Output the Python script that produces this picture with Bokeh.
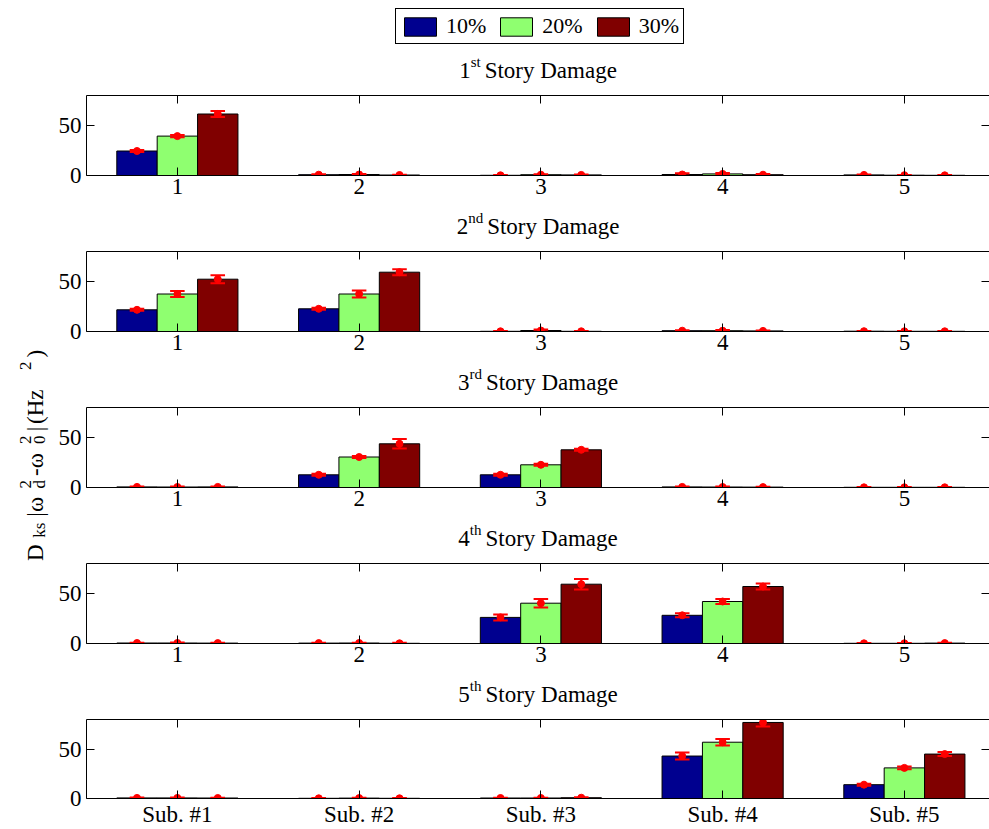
import numpy as np
from bokeh.plotting import figure
from bokeh.models import (FixedTicker, LinearAxis, Range1d, Legend, LegendItem)
from bokeh.core.properties import value
from bokeh.layouts import row, column
from bokeh.embed import file_html
from bokeh.resources import INLINE

# ---------------- data ----------------
subs = [1, 2, 3, 4, 5]
sub_labels = ["Sub. #1", "Sub. #2", "Sub. #3", "Sub. #4", "Sub. #5"]
levels = ["10%", "20%", "30%"]
story_nums = ["1", "2", "3", "4", "5"]
story_suffix = ["st", "nd", "rd", "th", "th"]

# means [level][substructure] and error half-widths
story1_mean = [[24.5, 0.8, 0.2, 1.0, 0.6],
               [39.4, 1.0, 0.8, 1.6, 0.3],
               [61.5, 0.5, 0.6, 0.8, 0.2]]
story1_err = [[1.0, 0.4, 0.3, 1.2, 0.3],
              [1.2, 0.4, 0.4, 0.8, 0.3],
              [3.0, 0.3, 0.3, 0.6, 0.3]]
story2_mean = [[21.7, 22.7, 0.2, 0.8, 0.3],
               [37.5, 37.5, 1.0, 0.8, 0.2],
               [52.3, 59.3, 0.2, 0.6, 0.2]]
story2_err = [[1.0, 1.0, 0.3, 0.5, 0.3],
              [3.0, 3.5, 1.0, 0.8, 0.3],
              [4.0, 3.0, 0.3, 0.5, 0.3]]
story3_mean = [[0.6, 12.7, 12.7, 0.6, 0.2],
               [0.5, 30.5, 22.7, 0.5, 0.2],
               [0.6, 43.7, 37.7, 0.4, 0.2]]
story3_err = [[0.4, 1.0, 1.0, 0.5, 0.3],
              [0.4, 1.0, 1.0, 0.4, 0.3],
              [0.4, 4.7, 1.0, 0.3, 0.3]]
story4_mean = [[0.5, 0.4, 26.1, 28.2, 0.2],
               [0.5, 0.5, 40.3, 42.0, 0.2],
               [0.4, 0.2, 59.3, 57.0, 0.4]]
story4_err = [[0.3, 0.3, 3.0, 2.0, 0.3],
              [0.5, 0.3, 4.3, 2.5, 0.3],
              [0.3, 0.6, 5.3, 3.0, 0.3]]
story5_mean = [[0.6, 0.2, 0.5, 43.0, 14.0],
               [0.6, 0.4, 0.5, 57.0, 31.0],
               [0.5, 0.2, 0.8, 77.0, 45.0]]
story5_err = [[0.3, 0.3, 0.3, 3.5, 1.0],
              [0.3, 0.3, 0.3, 3.3, 1.5],
              [0.3, 0.3, 0.5, 4.0, 2.0]]

y_ticks = [0, 50]

story_means = [story1_mean, story2_mean, story3_mean, story4_mean, story5_mean]
story_errs = [story1_err, story2_err, story3_err, story4_err, story5_err]

# ---------------- styling ----------------
FONT = "Liberation Serif"
colors = ["#00008F", "#8FFF70", "#800000"]
ERR = "#FF0000"
BAR_W = 0.2222
MAIN = 23
SMALL = 15

# Times-like advance widths (em) for composing super/subscripts
W = {'0': .5, '1': .5, '2': .5, '3': .5, '4': .5, '5': .5, 's': .389, 't': .278,
     'n': .5, 'd': .5, 'r': .333, 'h': .5, ' ': .25, 'S': .556, 'o': .5, 'y': .5,
     'D': .722, 'a': .444, 'm': .778, 'g': .5, 'e': .444, 'k': .5, '|': .2,
     'ω': .69, '-': .333, '(': .333, ')': .333, 'H': .722, 'z': .444}


def tw(s, size):
    return sum(W.get(c, .5) for c in s) * size


def put_text(f, xs, ys, texts, size, angle=0.0):
    f.text(x=list(xs), y=list(ys), text=list(texts), angle=angle,
           text_font=value(FONT), text_font_size=value(f"{size}px"),
           text_color="black", text_align="left", text_baseline="alphabetic")


PANEL_W = 939
LEFT_W = 50
FRAME_LEFT = 36
PX_PER_UNIT = 181.75
X_END = 0.5 + (PANEL_W - FRAME_LEFT) / PX_PER_UNIT
X_MID = 3.0   # centre of the 0.5..5.5 axes


def blank(height):
    # same horizontal frame as the panels, vertical data units = pixels
    f = figure(width=PANEL_W, height=height, x_range=Range1d(0.5, X_END),
               y_range=Range1d(0, height), output_backend="svg",
               toolbar_location=None, x_axis_location=None, y_axis_location=None,
               min_border=0, min_border_left=FRAME_LEFT, min_border_right=0,
               min_border_top=0, min_border_bottom=0)
    f.outline_line_color = None
    f.xgrid.grid_line_color = None
    f.ygrid.grid_line_color = None
    return f


def add_title(f, k, base_y):
    num = story_nums[k]
    suf = story_suffix[k]
    rest = " Story Damage"
    extra = 4
    total = tw(num, MAIN) + tw(suf, SMALL) + extra + tw(rest, MAIN)
    x0 = -total / 2
    x_suf = x0 + tw(num, MAIN)
    x_rest = x_suf + tw(suf, SMALL) + extra
    u = PX_PER_UNIT
    put_text(f, [X_MID + x0 / u, X_MID + x_rest / u], [base_y, base_y], [num, rest], MAIN)
    put_text(f, [X_MID + x_suf / u], [base_y + 9], [suf], SMALL)


def make_panel(k, height, bottom, xlabels):
    p = figure(width=PANEL_W, height=height,
               x_range=Range1d(0.5, X_END), y_range=Range1d(0, 80),
               output_backend="svg", toolbar_location=None,
               x_axis_location=None, y_axis_location=None,
               min_border_left=FRAME_LEFT, min_border_right=0,
               min_border_top=1, min_border_bottom=bottom)
    p.outline_line_color = None
    p.xgrid.grid_line_color = None
    p.ygrid.grid_line_color = None

    means = story_means[k]
    errs = story_errs[k]
    for j in range(3):
        xs = np.array(subs, dtype=float) + (j - 1) * BAR_W
        p.vbar(x=xs, top=np.array(means[j]), bottom=0, width=BAR_W,
               fill_color=colors[j], line_color="black", line_width=1)
    for j in range(3):
        xs = np.array(subs, dtype=float) + (j - 1) * BAR_W
        m = np.array(means[j])
        e = np.array(errs[j])
        p.segment(x0=xs, y0=m - e, x1=xs, y1=m + e, line_color=ERR, line_width=2)
        p.segment(x0=xs - 0.04, y0=m - e, x1=xs + 0.04, y1=m - e, line_color=ERR, line_width=2)
        p.segment(x0=xs - 0.04, y0=m + e, x1=xs + 0.04, y1=m + e, line_color=ERR, line_width=2)
        p.scatter(x=xs, y=m, size=7, fill_color=ERR, line_color=ERR)

    def style(ax):
        ax.axis_line_color = "black"
        ax.axis_line_width = 1
        ax.major_tick_in = 8
        ax.major_tick_out = 0
        ax.minor_tick_line_color = None
        ax.major_tick_line_color = "black"
        ax.major_label_text_font = FONT
        ax.major_label_text_font_size = f"{MAIN}px"
        ax.major_label_text_color = "black"

    bx = LinearAxis(ticker=FixedTicker(ticks=subs),
                    major_label_overrides={s: lab for s, lab in zip(subs, xlabels)})
    style(bx)
    bx.major_label_standoff = 3
    p.add_layout(bx, "below")

    tx = LinearAxis(ticker=FixedTicker(ticks=subs),
                    major_label_overrides={s: "" for s in subs})
    style(tx)
    tx.major_label_text_font_size = "0px"
    tx.major_label_standoff = 0
    p.add_layout(tx, "above")

    ly = LinearAxis(ticker=FixedTicker(ticks=y_ticks),
                    major_label_overrides={t: str(t) for t in y_ticks})
    style(ly)
    ly.major_label_standoff = 5
    p.add_layout(ly, "left")

    ry = LinearAxis(ticker=FixedTicker(ticks=y_ticks),
                    major_label_overrides={t: "" for t in y_ticks})
    style(ry)
    ry.axis_line_color = None
    ry.major_label_text_font_size = "0px"
    ry.major_label_standoff = 0
    p.add_layout(ry, "right")
    return p


TITLE_BASE = 24

# header: legend + first title
header = blank(94)
# legend swatches: hidden copies of the first panel's bar series
swatch = []
for j in range(3):
    xs = np.array(subs, dtype=float) + (j - 1) * BAR_W
    r = header.vbar(x=xs, top=np.array(story1_mean[j]), bottom=0, width=BAR_W,
                    fill_color=colors[j], line_color="black", line_width=1)
    r.visible = False
    swatch.append(r)
lg = Legend(items=[LegendItem(label=levels[j], renderers=[swatch[j]], index=0)
                   for j in range(3)],
            orientation="horizontal", location=(309, 50),
            glyph_width=40, glyph_height=23, label_standoff=6, spacing=10,
            padding=4, margin=0,
            label_text_font=FONT,
            label_text_font_size="22px", label_text_color="black",
            border_line_color="black", border_line_alpha=1.0,
            border_line_width=1, background_fill_color="white",
            background_fill_alpha=1.0, label_height=23,
            inactive_fill_alpha=0.0)
header.add_layout(lg)
add_title(header, 0, TITLE_BASE)

num_labels = [str(s) for s in subs]
items = [header]
for k in range(5):
    if k > 0:
        strip = blank(39)
        add_title(strip, k, TITLE_BASE)
        items.append(strip)
    if k < 4:
        items.append(make_panel(k, 117, 36, num_labels))
    else:
        items.append(make_panel(k, 111, 30, sub_labels))

# y-axis label column
lf = figure(width=LEFT_W, height=829, x_range=Range1d(0, LEFT_W), y_range=Range1d(0, 829),
            output_backend="svg", toolbar_location=None,
            x_axis_location=None, y_axis_location=None,
            min_border=0, min_border_left=0, min_border_right=0,
            min_border_top=0, min_border_bottom=0)
lf.outline_line_color = None
lf.xgrid.grid_line_color = None
lf.ygrid.grid_line_color = None

YS = 17      # sub/superscript size in the y label
GAP = 1.5    # extra spacing between TeX pieces
SCALE = 1.3
# pieces: (text, size, shift (+ = down in text = right on screen), advance)
pieces = [
    ("D", MAIN, 0, True),
    ("ks", YS, 4, True),
    ("|ω", MAIN, 0, True),
    ("2", YS, -10, False),
    ("d", YS, 4, True),
    ("-ω", MAIN, 0, True),
    ("2", YS, -10, False),
    ("0", YS, 4, True),
    ("|", MAIN, 0, True),
    (" (Hz", MAIN, 0, True),
    ("2", YS, -10, True),
    (")", MAIN, 0, True),
]
adv_pieces = [(t, s) for t, s, _, a in pieces if a]
total_len = sum(tw(t, s) * SCALE + GAP for t, s in adv_pieces)
center_y = 829 - 453
base_x = 35
pos = center_y - total_len / 2
for size in (MAIN, YS):
    xs, ys, ts = [], [], []
    p_ = pos
    for t, s, sh, adv in pieces:
        if s == size:
            xs.append(base_x + sh)
            ys.append(p_)
            ts.append(t)
        if adv:
            p_ += tw(t, s) * SCALE + GAP
    put_text(lf, xs, ys, ts, size, angle=np.pi / 2)

layout = row(lf, column(*items))
open("out.html", "w").write(file_html(layout, INLINE))
